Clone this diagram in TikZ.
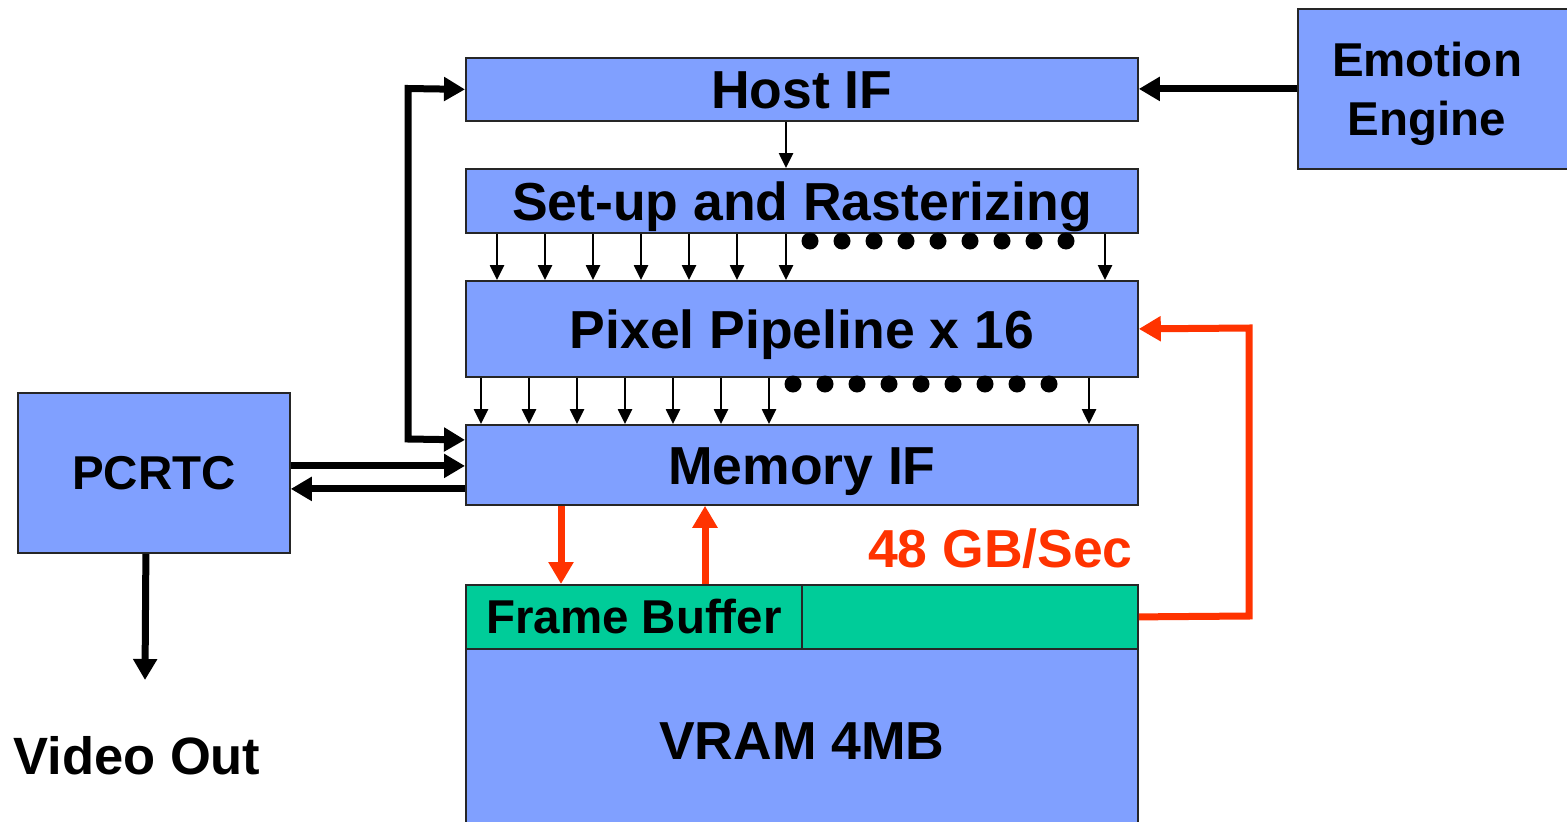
\documentclass[tikz,border=0pt]{standalone}
\usepackage{fontspec}
\setmainfont{Liberation Sans}
\usetikzlibrary{arrows.meta}
\definecolor{boxblue}{RGB}{128,160,255}
\definecolor{fbgreen}{RGB}{0,204,153}
\definecolor{busred}{RGB}{255,51,0}
\begin{document}
\begin{tikzpicture}[x=1pt,y=-1pt,
 box/.style={draw=black!85, line width=1.8pt, fill=boxblue, inner sep=0pt, anchor=north west, minimum width=672pt},
 big/.style={font=\fontsize{53.5}{60}\selectfont\bfseries, text height=38.3pt, text depth=0pt},
 mid/.style={font=\fontsize{47.5}{56}\selectfont\bfseries, text height=34pt, text depth=0pt},
 thinarrow/.style={line width=2.6pt, -{Triangle[length=15pt,width=14pt]}},
 thickarrow/.style={line width=7pt, line join=miter, -{Triangle[length=21pt,width=23pt]}},
 thickboth/.style={line width=7pt, line join=miter, {Triangle[length=21pt,width=23pt]}-{Triangle[length=21pt,width=23pt]}},
 redarrow/.style={draw=busred, line width=7pt, line join=miter, -{Triangle[length=22pt,width=24pt]}}
]
\useasboundingbox (0,0) rectangle (1567,822);

% boxes
\node[box, big, minimum height=63pt] (host) at (465,57) {Host IF};
\node[box, big, minimum height=64pt] (setup) at (465,168) {Set-up and Rasterizing};
\node[box, big, minimum height=96pt] (pixel) at (465,280) {Pixel Pipeline x 16};
\node[box, big, minimum height=80pt] (mem) at (465,424) {Memory IF};
\node[box, mid, fill=fbgreen, minimum width=336pt, minimum height=64pt] (fbl) at (465,584) {Frame Buffer};
\node[box, fill=fbgreen, minimum width=336pt, minimum height=64pt] (fbr) at (801,584) {};
\node[box, big, minimum height=182pt] (vram) at (465,648) {VRAM 4MB};
\node[box, minimum width=290pt, minimum height=160pt] (ee) at (1297,8) {};
\node[font=\fontsize{47.5}{59}\selectfont\bfseries, align=center] (eet) at (1427,94) {Emotion\\Engine};
\node[box, mid, minimum width=272pt, minimum height=160pt] (pcrtc) at (17,392) {PCRTC};
\node[font=\fontsize{52.5}{60}\selectfont\bfseries, text height=37.5pt, text depth=0pt] (vout) at (137,756) {Video Out};
\node[font=\fontsize{53.5}{60}\selectfont\bfseries, text height=38.3pt, text depth=0pt, text=busred, anchor=east, inner sep=0pt] (bw) at (1133,548) {48 GB/Sec};

% host -> setup
\draw[thinarrow] ([xshift=321pt]host.south west) -- ([xshift=321pt]setup.north west);
% setup -> pixel
\foreach \d in {32,80,128,176,224,272,321,640}
  \draw[thinarrow] ([xshift=\d pt]setup.south west) -- ([xshift=\d pt]pixel.north west);
% pixel -> mem
\foreach \d in {16,64,112,160,208,256,304,624}
  \draw[thinarrow] ([xshift=\d pt]pixel.south west) -- ([xshift=\d pt]mem.north west);
% dots
\foreach \i in {0,...,8} {
  \fill (810+32*\i,241) circle (8.5pt);
  \fill (793+32*\i,384) circle (8.5pt);
}

% emotion engine -> host
\draw[thickarrow] (ee.west) -- (ee.west -| host.east);

% loop host <-> mem
\coordinate (lt) at (408,88.5);
\coordinate (lb) at (408,439);
\draw[thickboth] (host.west) -- (lt) -- (lb) -- ([yshift=25pt]mem.west);

% pcrtc <-> mem
\coordinate (pa) at ([yshift=7pt]pcrtc.east);
\coordinate (pb) at ([yshift=-16pt]pcrtc.east);
\draw[thickarrow] (pa) -- (pa -| mem.west);
\draw[thickarrow] (pb -| mem.west) -- (pb);

% video out
\coordinate (vo) at (145,680);
\draw[thickarrow] ([xshift=-8pt]pcrtc.south) -- (vo);

% red buses
\draw[redarrow] ([xshift=96pt]mem.south west) -- ([xshift=96pt]fbl.north west);
\draw[redarrow] ([xshift=240pt]fbl.north west) -- ([xshift=240pt]mem.south west);
\coordinate (rb) at (1249,616);
\coordinate (rt) at (1249,328);
\draw[redarrow] (fbr.east) -- (rb) -- (rt) -- (pixel.east);
\end{tikzpicture}
\end{document}
